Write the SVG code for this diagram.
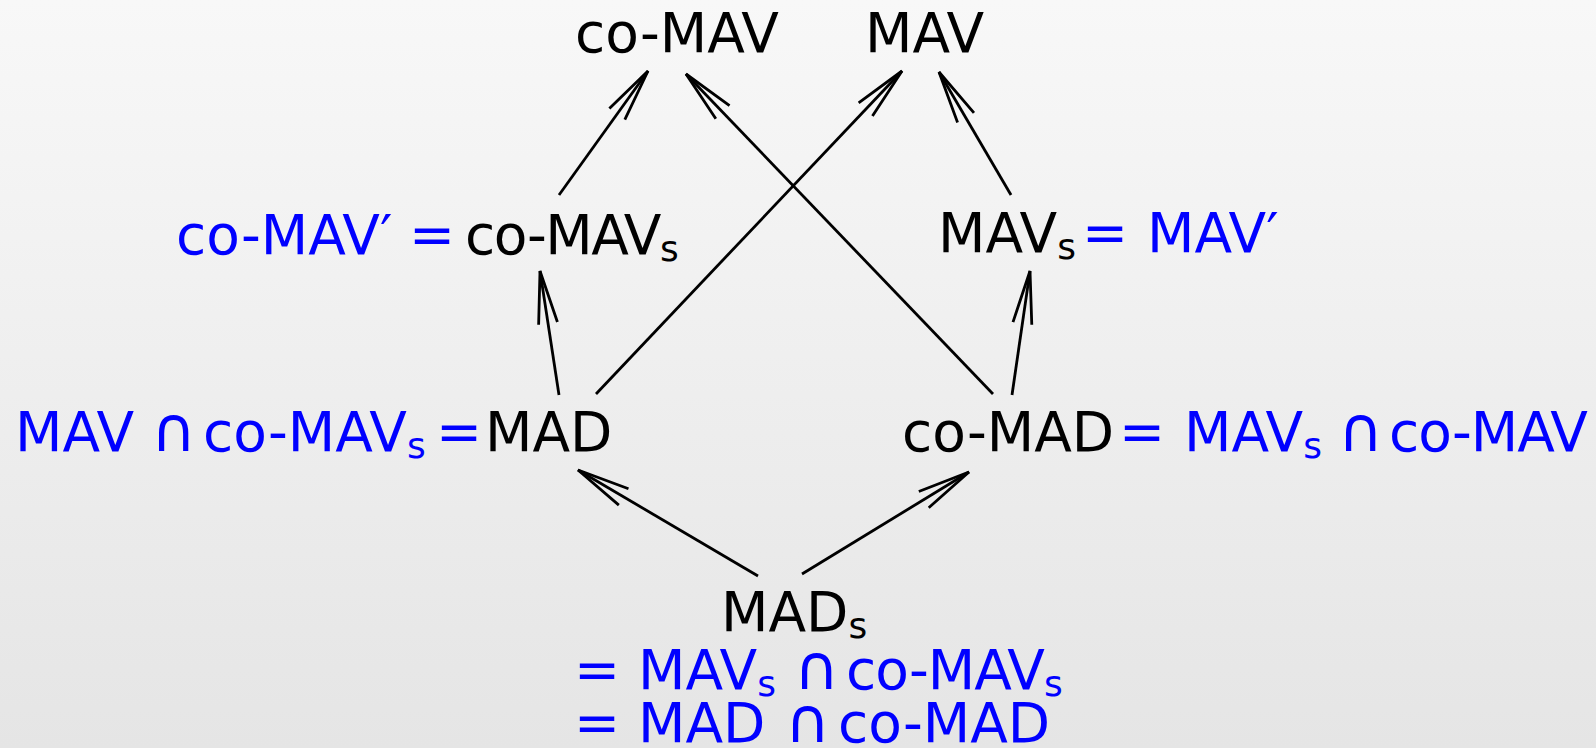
<svg xmlns="http://www.w3.org/2000/svg" width="1596" height="748" viewBox="0 0 1596 748">
<defs>
<linearGradient id="bg" x1="0" y1="0" x2="0" y2="1">
<stop offset="0" stop-color="#f8f8f8"/>
<stop offset="1" stop-color="#e5e5e5"/>
</linearGradient>
<marker id="ah" markerUnits="userSpaceOnUse" markerWidth="60" markerHeight="24" viewBox="-56 -12 60 24" refX="0" refY="0" orient="auto" overflow="visible">
<path d="M-53,-9.5 L0,0 L-53,9.5" fill="none" stroke="#000" stroke-width="2.8"/>
</marker>
<style>
text{font-family:"DejaVu Sans","Liberation Sans",sans-serif;font-size:55px;fill:#000}
.b{fill:#0000ff}
.s{font-size:36px}
.cap{font-size:62px}
.edge{stroke:#000;stroke-width:2.8;fill:none;marker-end:url(#ah)}
</style>
</defs>
<rect x="0" y="0" width="1596" height="748" fill="url(#bg)"/>
<g id="connectors">
<line class="edge" x1="559" y1="195" x2="648" y2="71"/>
<line class="edge" x1="993" y1="394" x2="686" y2="74"/>
<line class="edge" x1="596" y1="394" x2="902" y2="71"/>
<line class="edge" x1="1011" y1="195" x2="939" y2="72"/>
<line class="edge" x1="559" y1="395" x2="540" y2="271"/>
<line class="edge" x1="1012" y1="395" x2="1030" y2="271"/>
<line class="edge" x1="758" y1="576" x2="578" y2="470"/>
<line class="edge" x1="802" y1="574" x2="969" y2="472"/>
</g>
<g id="node-coMAV">
<text x="575" y="52">co-MAV</text>
</g>
<g id="node-MAV">
<text x="865" y="52">MAV</text>
</g>
<g id="node-coMAVs">
<text class="b" x="176" y="254">co-MAV′</text>
<text class="b" x="409" y="254">=</text>
<text x="465" y="254" letter-spacing="-1.5">co-MAV<tspan class="s" dy="7" letter-spacing="0">s</tspan></text>
</g>
<g id="node-MAVs">
<text x="938" y="252">MAV<tspan class="s" dy="7">s</tspan></text>
<text class="b" x="1082" y="252">=</text>
<text class="b" x="1147" y="252">MAV′</text>
</g>
<g id="node-MAD">
<text class="b" x="15" y="451">MAV<tspan class="cap" x="151">∩</tspan><tspan x="203">co-MAV</tspan><tspan class="s" dy="7">s</tspan></text>
<text class="b" x="436" y="451">=</text>
<text x="485" y="451">MAD</text>
</g>
<g id="node-coMAD">
<text x="902" y="451">co-MAD</text>
<text class="b" x="1119" y="451">=</text>
<text class="b" x="1184" y="451">MAV<tspan class="s" dy="7">s</tspan><tspan class="cap" x="1338" dy="-7">∩</tspan><tspan x="1389" letter-spacing="-1">co-MAV</tspan></text>
</g>
<g id="node-MADs">
<text x="721" y="631">MAD<tspan class="s" dy="7">s</tspan></text>
<text class="b" x="574" y="689">=</text>
<text class="b" x="638" y="689">MAV<tspan class="s" dy="7">s</tspan><tspan class="cap" x="794" dy="-7">∩</tspan><tspan x="846" letter-spacing="-1">co-MAV</tspan><tspan class="s" dy="7">s</tspan></text>
<text class="b" x="574" y="742">=</text>
<text class="b" x="638" y="742">MAD<tspan class="cap" x="785">∩</tspan><tspan x="838">co-MAD</tspan></text>
</g>
</svg>
